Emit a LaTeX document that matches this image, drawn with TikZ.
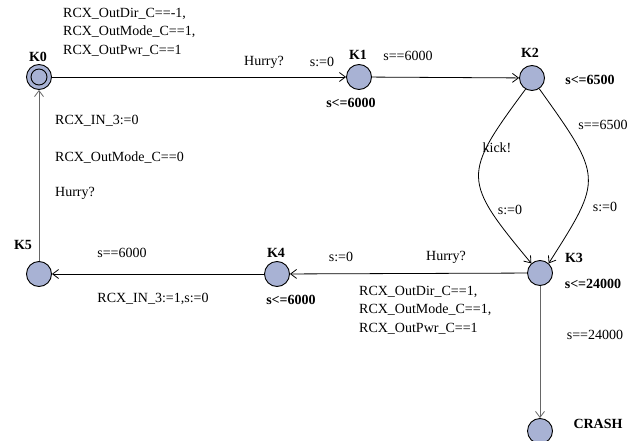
\documentclass[tikz,border=0pt]{standalone}
\usepackage{fontspec}
\setmainfont{Liberation Serif}
\usetikzlibrary{arrows.meta}
\definecolor{locfill}{RGB}{168,178,212}
\begin{document}
\begin{tikzpicture}[x=1pt,y=-1pt,
  loc/.style={circle,draw=black,line width=0.9pt,fill=locfill,minimum size=25pt,inner sep=0pt},
  lbl/.style={font=\fontsize{14}{18.5}\selectfont,inner sep=0pt},
  nm/.style={font=\fontsize{14}{18.5}\selectfont\bfseries,inner sep=0pt},
  edge/.style={draw=black,line width=0.8pt,-{Straight Barb[length=6pt,width=9pt]}},
  vedge/.style={edge,draw=black!60}
]
\useasboundingbox (0,0) rectangle (639,441);
% locations
\node[loc] (K0) at (39,77) {};
\node[circle,draw=black,line width=0.9pt,minimum size=16pt,inner sep=0pt] (K0i) at (39,77) {};
\node[loc] (K1) at (359,77) {};
\node[loc] (K2) at (532,78) {};
\node[loc] (K3) at (540,273) {};
\node[loc] (K4) at (277,274) {};
\node[loc] (K5) at (39,274) {};
\node[loc] (CRASH) at (540,431) {};
% names
\node[nm] (nK0) at (38,57) {K0};
\node[nm] (nK1) at (358,55) {K1};
\node[nm] (nK2) at (530,53) {K2};
\node[nm] (nK3) at (574,258) {K3};
\node[nm] (nK4) at (276,253) {K4};
\node[nm] (nK5) at (23,245) {K5};
\node[nm] (nCR) at (598,424) {CRASH};
% invariants
\node[nm] (iK1) at (351,103) {s<=6000};
\node[nm] (iK2) at (590,80) {s<=6500};
\node[nm] (iK3) at (593,284) {s<=24000};
\node[nm] (iK4) at (291,300) {s<=6000};
% edges
\draw[edge] (K0) -- (K1);
\draw[edge] (K1) -- (K2);
\draw[edge] (K2.-120) .. controls (462,175) and (462,180) .. (K3.132);
\draw[edge] (K2.-56) .. controls (603,178) and (603,178) .. (K3.48);
\draw[edge] (K3) -- (K4);
\draw[edge] (K4) -- (K5);
\draw[vedge] (K5) -- (K0);
\draw[vedge] (K3) -- (CRASH);
% edge labels
\node[lbl,align=left,anchor=west] (g01) at (63,32) {RCX\_OutDir\_C==-1,\\RCX\_OutMode\_C==1,\\RCX\_OutPwr\_C==1};
\node[lbl] (h01) at (264,62) {Hurry?};
\node[lbl] (a01) at (322,62) {s:=0};
\node[lbl] (g12) at (408,56) {s==6000};
\node[lbl] (s23a) at (497,148) {kick!};
\node[lbl] (a23a) at (510,210) {s:=0};
\node[lbl] (g23b) at (603,125) {s==6500};
\node[lbl] (a23b) at (605,207) {s:=0};
\node[lbl] (a34) at (341,257) {s:=0};
\node[lbl] (h34) at (446,257) {Hurry?};
\node[lbl,align=left,anchor=west] (g34) at (359,310) {RCX\_OutDir\_C==1,\\RCX\_OutMode\_C==1,\\RCX\_OutPwr\_C==1};
\node[lbl] (g45) at (122,253) {s==6000};
\node[lbl] (a45) at (153,299) {RCX\_IN\_3:=1,s:=0};
\node[lbl,anchor=west] (a50) at (55,121) {RCX\_IN\_3:=0};
\node[lbl,anchor=west] (g50) at (55,158) {RCX\_OutMode\_C==0};
\node[lbl,anchor=west] (h50) at (55,193) {Hurry?};
\node[lbl] (g3C) at (595,335) {s==24000};
\end{tikzpicture}
\end{document}
